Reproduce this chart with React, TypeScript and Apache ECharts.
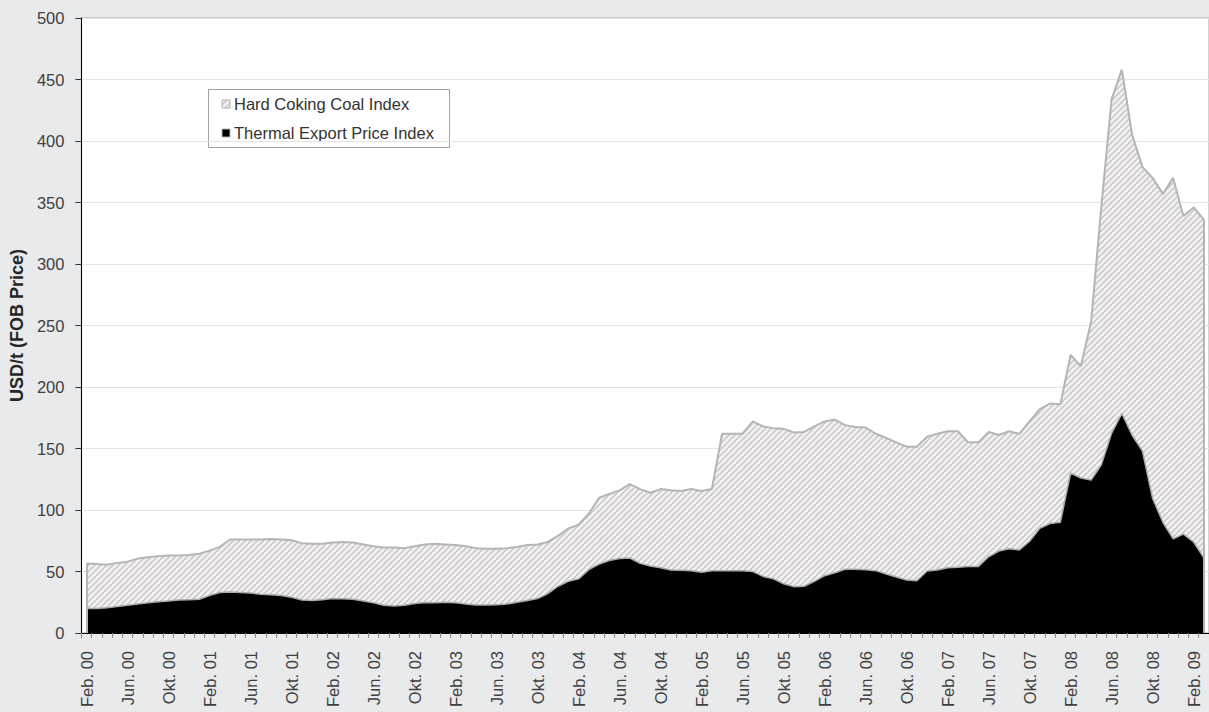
import React, { useEffect, useRef } from 'react';
import * as echarts from 'echarts';

const categories = [
  'Feb. 00', 'Mrz. 00', 'Apr. 00', 'Mai. 00', 'Jun. 00', 'Jul. 00', 'Aug. 00', 'Sep. 00', 'Okt. 00', 'Nov. 00', 'Dez. 00',
  'Jan. 01', 'Feb. 01', 'Mrz. 01', 'Apr. 01', 'Mai. 01', 'Jun. 01', 'Jul. 01', 'Aug. 01', 'Sep. 01', 'Okt. 01', 'Nov. 01', 'Dez. 01',
  'Jan. 02', 'Feb. 02', 'Mrz. 02', 'Apr. 02', 'Mai. 02', 'Jun. 02', 'Jul. 02', 'Aug. 02', 'Sep. 02', 'Okt. 02', 'Nov. 02', 'Dez. 02',
  'Jan. 03', 'Feb. 03', 'Mrz. 03', 'Apr. 03', 'Mai. 03', 'Jun. 03', 'Jul. 03', 'Aug. 03', 'Sep. 03', 'Okt. 03', 'Nov. 03', 'Dez. 03',
  'Jan. 04', 'Feb. 04', 'Mrz. 04', 'Apr. 04', 'Mai. 04', 'Jun. 04', 'Jul. 04', 'Aug. 04', 'Sep. 04', 'Okt. 04', 'Nov. 04', 'Dez. 04',
  'Jan. 05', 'Feb. 05', 'Mrz. 05', 'Apr. 05', 'Mai. 05', 'Jun. 05', 'Jul. 05', 'Aug. 05', 'Sep. 05', 'Okt. 05', 'Nov. 05', 'Dez. 05',
  'Jan. 06', 'Feb. 06', 'Mrz. 06', 'Apr. 06', 'Mai. 06', 'Jun. 06', 'Jul. 06', 'Aug. 06', 'Sep. 06', 'Okt. 06', 'Nov. 06', 'Dez. 06',
  'Jan. 07', 'Feb. 07', 'Mrz. 07', 'Apr. 07', 'Mai. 07', 'Jun. 07', 'Jul. 07', 'Aug. 07', 'Sep. 07', 'Okt. 07', 'Nov. 07', 'Dez. 07',
  'Jan. 08', 'Feb. 08', 'Mrz. 08', 'Apr. 08', 'Mai. 08', 'Jun. 08', 'Jul. 08', 'Aug. 08', 'Sep. 08', 'Okt. 08', 'Nov. 08', 'Dez. 08',
  'Jan. 09', 'Feb. 09', 'Mrz. 09',
];

const hardCokingCoal = [
  56.5, 56, 55.5, 57, 58, 60.5, 61.5, 62.5, 63, 63, 63.5,
  64.5, 67, 70, 76, 76, 76, 76, 76.5, 76, 75.5, 73, 72.5,
  72.5, 73.5, 74, 73.5, 72, 70.5, 69.5, 69.5, 69, 70.5, 72, 72.5,
  72, 71.5, 70.5, 69, 68.5, 68.5, 69, 70, 71.5, 72, 74, 79,
  85, 88, 97, 110, 113, 116, 121, 117, 114, 117, 116, 115.5,
  117, 115.5, 117, 162, 162, 162, 172, 168, 166.5, 166, 163, 163.5,
  168, 172, 173.5, 169, 167.5, 167, 162, 158.5, 155, 151.5, 151.5, 159.5,
  162, 164, 164, 155, 155, 163.5, 161, 164, 162, 172, 182, 186.5,
  186, 226, 217, 253, 347, 434, 458, 405, 379, 370, 357, 370,
  339, 346, 336,
];

const thermalExport = [
  20, 20, 20.5, 21.5, 22.5, 23.5, 24.5, 25.5, 26, 26.8, 27,
  27.5, 30.5, 33, 33.3, 33, 32.5, 31.5, 31, 30.5, 29, 26.8, 26.5,
  27, 28, 27.8, 27.5, 26, 24.5, 22.5, 22, 22.5, 24, 24.7, 24.5,
  25, 24.5, 23.5, 22.7, 22.7, 23, 23.5, 25, 26.5, 28, 32, 38,
  42, 44, 51.5, 56, 59, 60.5, 61, 56.6, 54.5, 53, 51.2, 51,
  50.7, 49.3, 50.7, 50.7, 50.7, 50.7, 50, 46, 44, 40, 37.7, 38,
  42, 46.6, 49, 51.8, 51.8, 51.5, 50.7, 48, 45.5, 43, 42.5, 50.4,
  51.2, 53, 53.5, 54, 54, 62, 66.6, 68.5, 67.5, 74.6, 85.2, 89,
  90, 130, 126, 124.4, 136.7, 162.4, 178.5, 160.8, 148, 109.3, 90, 76.5,
  80.4, 74, 61,
];

const seriesNames = ['Hard Coking Coal Index', 'Thermal Export Price Index'];
const yMin = 0;
const yMax = 500;
const yInterval = 50;

const FONT = '"Liberation Sans", Arial, sans-serif';

function makeHatch(): string {
  const s = 6;
  const c = document.createElement('canvas');
  c.width = s;
  c.height = s;
  const ctx = c.getContext('2d') as CanvasRenderingContext2D;
  ctx.fillStyle = '#f2f0f0';
  ctx.fillRect(0, 0, s, s);
  ctx.strokeStyle = '#c9c4c4';
  ctx.lineWidth = 1.4;
  ctx.beginPath();
  ctx.moveTo(0, s); ctx.lineTo(s, 0);
  ctx.moveTo(-s / 2, s / 2); ctx.lineTo(s / 2, -s / 2);
  ctx.moveTo(s / 2, s * 1.5); ctx.lineTo(s * 1.5, s / 2);
  ctx.stroke();
  return c.toDataURL();
}

export default function App() {
  const ref = useRef<HTMLDivElement>(null);

  useEffect(() => {
    if (!ref.current) return;
    const chart = echarts.init(ref.current, undefined, { renderer: 'svg' });
    const hatchSrc = makeHatch();
    const hatch = { image: hatchSrc, repeat: 'repeat', imageWidth: 6, imageHeight: 6 };
    const last = categories.length - 1;

    chart.setOption({
      animation: false,
      backgroundColor: '#e9eaec',
      grid: {
        left: 79,
        right: 0,
        top: 18,
        bottom: 79,
        show: true,
        backgroundColor: '#ffffff',
        borderColor: '#c4c4c4',
        borderWidth: 1.5,
      },
      xAxis: {
        type: 'category',
        data: categories,
        boundaryGap: true,
        axisLine: { show: true, lineStyle: { color: '#000', width: 1 } },
        axisTick: { show: true, interval: 0, length: 5, lineStyle: { color: '#8a8a8a' } },
        axisLabel: {
          interval: 3,
          rotate: 90,
          fontSize: 16.5,
          fontFamily: FONT,
          color: '#404040',
          margin: 18,
        },
        splitLine: { show: false },
      },
      yAxis: {
        type: 'value',
        min: yMin,
        max: yMax,
        interval: yInterval,
        name: 'USD/t (FOB Price)',
        nameLocation: 'middle',
        nameGap: 52,
        nameTextStyle: { fontSize: 18, fontWeight: 'bold', fontFamily: FONT, color: '#262626' },
        axisLine: { show: true, lineStyle: { color: '#000', width: 1 } },
        axisTick: { show: true, length: 6, lineStyle: { color: '#333' } },
        axisLabel: { fontSize: 16.5, fontFamily: FONT, color: '#404040', margin: 17 },
        splitLine: { show: true, lineStyle: { color: '#e4e4e4', width: 1 } },
      },
      series: [
        {
          name: seriesNames[0],
          type: 'line',
          data: hardCokingCoal,
          symbol: 'none',
          z: 2,
          lineStyle: { color: '#b5b5b5', width: 2 },
          areaStyle: { color: hatch, opacity: 1 },
        },
        {
          name: seriesNames[1],
          type: 'line',
          data: thermalExport,
          symbol: 'none',
          z: 3,
          lineStyle: { color: '#a9a9a9', width: 1.5 },
          areaStyle: { color: '#000000', opacity: 1 },
          markLine: {
            silent: true,
            symbol: ['none', 'none'],
            label: { show: false },
            lineStyle: { color: '#b5b5b5', width: 2, type: 'solid' },
            data: [
              [{ coord: [categories[0], 0] }, { coord: [categories[0], hardCokingCoal[0]] }],
              [{ coord: [categories[last], 0] }, { coord: [categories[last], hardCokingCoal[last]] }],
            ],
          },
        },
      ],
      graphic: [
        {
          type: 'group',
          left: 208,
          top: 89,
          children: [
            {
              type: 'rect',
              shape: { x: 0.5, y: 0.5, width: 241, height: 58 },
              style: { fill: '#ffffff', stroke: '#a0a0a0', lineWidth: 1 },
            },
            {
              type: 'rect',
              shape: { x: 14, y: 11, width: 8, height: 8 },
              style: { fill: { image: hatchSrc, repeat: 'repeat', imageWidth: 6, imageHeight: 6 }, stroke: '#b0b0b0', lineWidth: 1 },
            },
            {
              type: 'text',
              x: 26,
              y: 15,
              style: {
                text: seriesNames[0],
                fontSize: 16.5,
                fontFamily: FONT,
                fill: '#333',
                verticalAlign: 'middle',
              },
            },
            {
              type: 'rect',
              shape: { x: 14, y: 40, width: 8, height: 8 },
              style: { fill: '#000000', stroke: '#b0b0b0', lineWidth: 1 },
            },
            {
              type: 'text',
              x: 26,
              y: 44,
              style: {
                text: seriesNames[1],
                fontSize: 16.5,
                fontFamily: FONT,
                fill: '#333',
                verticalAlign: 'middle',
              },
            },
          ],
        },
      ],
    });

    return () => chart.dispose();
  }, []);

  return <div ref={ref} style={{ position: 'fixed', left: 0, top: 0, width: 1209, height: 712 }} />;
}
